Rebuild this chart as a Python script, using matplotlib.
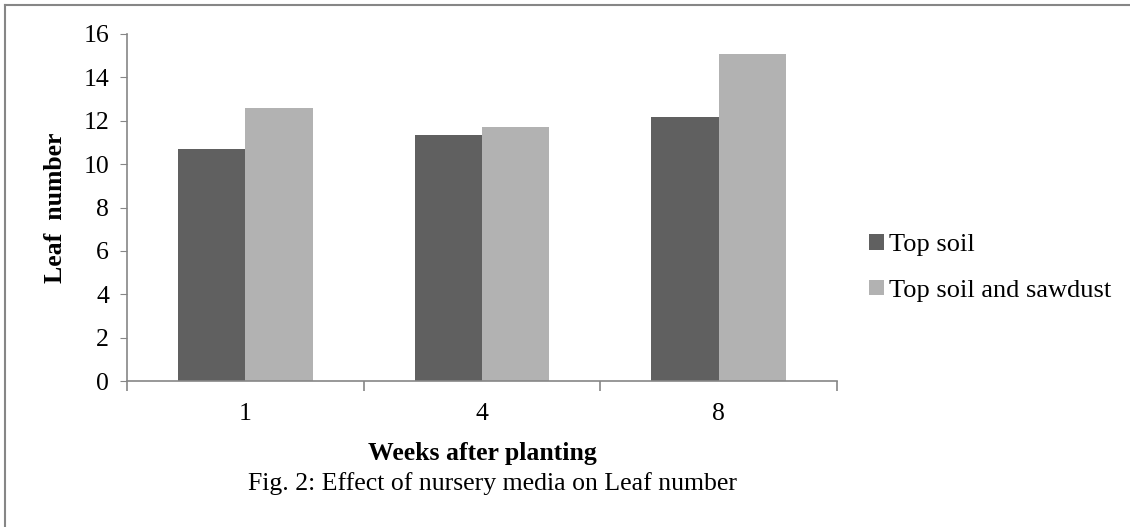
import matplotlib.pyplot as plt
from matplotlib.lines import Line2D
import numpy as np

weeks = ["1", "4", "8"]
top_soil = [10.68, 11.32, 12.18]
top_soil_sawdust = [12.58, 11.70, 15.07]
series_names = ["Top soil", "Top soil and sawdust"]

plt.rcParams['font.family'] = ['Liberation Serif', 'DejaVu Serif']

fig = plt.figure(figsize=(11.3, 5.27), dpi=100)
ax = fig.add_axes([0.1124, 0.277, 0.6283, 0.6585])

x = np.arange(len(weeks))
w = 0.285
ax.bar(x - w / 2, top_soil, w, color='#606060', label=series_names[0])
ax.bar(x + w / 2, top_soil_sawdust, w, color='#b2b2b2', label=series_names[1])

ax.set_xlim(-0.5, len(weeks) - 0.5)
ax.set_ylim(0, 16)
ax.set_yticks(range(0, 17, 2))
ax.set_xticks(x)
ax.set_xticklabels(weeks)
ax.set_xticks(np.arange(-0.5, len(weeks), 1), minor=True)

axis_gray = '#868686'
for side in ['top', 'right']:
    ax.spines[side].set_visible(False)
for side in ['left', 'bottom']:
    ax.spines[side].set_color(axis_gray)
    ax.spines[side].set_linewidth(1.2)

ax.tick_params(axis='y', labelsize=18.5, length=5, color=axis_gray, pad=8)
ax.tick_params(axis='x', which='major', labelsize=18.5, length=0, pad=16)
ax.tick_params(axis='x', which='minor', length=7, color=axis_gray, width=1.2)

ax.set_ylabel("Leaf  number", fontsize=18.5, fontweight='bold', labelpad=12)
ax.set_xlabel("Weeks after planting", fontsize=18.5, fontweight='bold', labelpad=12)

fig.text(0.436, 0.083, "Fig. 2: Effect of nursery media on Leaf number",
         fontsize=18.5, ha='center', va='center')

fig.legend(loc='center left', bbox_to_anchor=(0.748, 0.4915), frameon=False,
           fontsize=19, handlelength=0.55, handleheight=0.55, handletextpad=0.2,
           labelspacing=0.88)

# outer frame (left and top only visible)
fig.add_artist(Line2D([0.0045, 0.0045], [0, 0.99], color=axis_gray, lw=1.5))
fig.add_artist(Line2D([0.0045, 1], [0.99, 0.99], color=axis_gray, lw=1.5))

fig.savefig("out.png", dpi=100)
